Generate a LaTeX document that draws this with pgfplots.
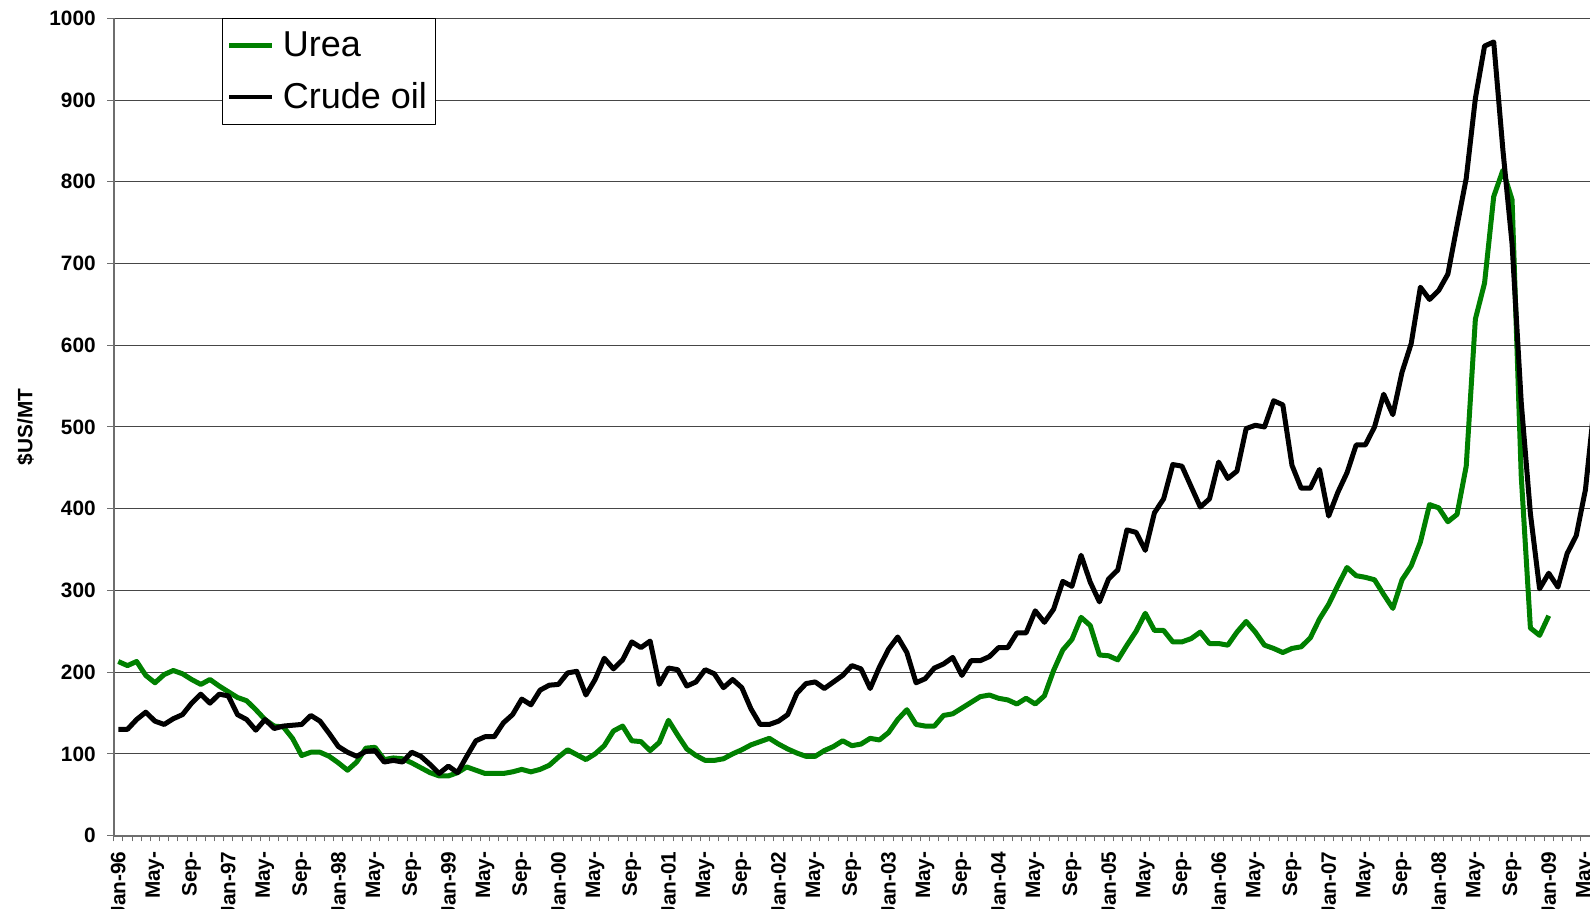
\documentclass[border=0pt]{standalone}
\usepackage{fontspec}
\setmainfont{Liberation Sans}
\usepackage{pgfplots}
\pgfplotsset{compat=1.18}
\usepackage{pgfplotstable}
\definecolor{ureagreen}{RGB}{0,128,0}
\definecolor{gridc}{RGB}{70,70,70}
\definecolor{axc}{RGB}{110,110,110}

\pgfplotstableread{
i v
0 213
1 208
2 213
3 196
4 187
5 197
6 202
7 198
8 191
9 185
10 191
11 183
12 176
13 169
14 165
15 154
16 142
17 134
18 133
19 119
20 98
21 102
22 102
23 97
24 89
25 80
26 90
27 107
28 108
29 93
30 95
31 94
32 89
33 83
34 77
35 73
36 73
37 77
38 84
39 80
40 76
41 76
42 76
43 78
44 81
45 78
46 81
47 86
48 96
49 105
50 99
51 93
52 100
53 110
54 128
55 134
56 116
57 115
58 104
59 114
60 141
61 123
62 106
63 98
64 92
65 92
66 94
67 100
68 105
69 111
70 115
71 119
72 112
73 106
74 101
75 97
76 97
77 104
78 109
79 116
80 110
81 112
82 119
83 117
84 126
85 142
86 154
87 136
88 134
89 134
90 147
91 149
92 156
93 163
94 170
95 172
96 168
97 166
98 161
99 168
100 161
101 171
102 202
103 227
104 240
105 267
106 257
107 221
108 220
109 215
110 233
111 250
112 272
113 251
114 251
115 237
116 237
117 241
118 249
119 235
120 235
121 233
122 249
123 262
124 249
125 233
126 229
127 224
128 229
129 231
130 242
131 265
132 283
133 306
134 328
135 318
136 316
137 313
138 295
139 278
140 313
141 330
142 359
143 405
144 401
145 384
146 393
147 452
148 632
149 676
150 782
151 814
152 778
153 440
154 254
155 245
156 269
}\urea

\pgfplotstableread{
i v
0 130
1 130
2 142
3 151
4 140
5 136
6 143
7 148
8 162
9 173
10 162
11 173
12 171
13 148
14 142
15 129
16 142
17 131
18 134
19 135
20 136
21 147
22 140
23 125
24 109
25 102
26 97
27 103
28 104
29 90
30 92
31 90
32 102
33 97
34 87
35 76
36 85
37 77
38 97
39 116
40 121
41 121
42 138
43 148
44 167
45 160
46 178
47 184
48 185
49 199
50 201
51 172
52 191
53 217
54 204
55 215
56 237
57 230
58 238
59 185
60 205
61 203
62 183
63 188
64 203
65 198
66 181
67 191
68 181
69 155
70 136
71 136
72 140
73 148
74 174
75 186
76 188
77 180
78 188
79 196
80 208
81 204
82 180
83 206
84 228
85 243
86 224
87 187
88 192
89 205
90 210
91 218
92 196
93 214
94 214
95 219
96 230
97 230
98 248
99 248
100 275
101 261
102 277
103 311
104 305
105 343
106 310
107 286
108 314
109 325
110 374
111 371
112 349
113 395
114 412
115 454
116 452
117 427
118 402
119 412
120 457
121 437
122 446
123 498
124 502
125 500
126 532
127 527
128 453
129 425
130 425
131 448
132 391
133 420
134 444
135 478
136 478
137 500
138 540
139 515
140 567
141 602
142 671
143 656
144 667
145 687
146 746
147 804
148 902
149 966
150 971
151 839
152 724
153 530
154 394
155 302
156 321
157 304
158 345
159 367
160 423
161 530
}\crude

\begin{document}
\begin{tikzpicture}
\begin{axis}[
  name=ax,
  scale only axis,
  width=738.15pt, height=408.65pt,
  xmin=-0.5, xmax=160.5,
  ymin=0, ymax=1000,
  axis x line*=bottom, axis y line*=left,
  axis line style={axc, line width=1pt},
  ytick={0,100,...,1000},
  ymajorgrids,
  major grid style={gridc, line width=0.5pt},
  tick align=outside,
  major tick length=3.3pt,
  minor tick length=2.9pt,
  xtick={0,4,...,160},
  minor xtick={-0.5,0.5,...,160.5},
  major x tick style={draw=none},
  minor x tick style={axc, line width=0.5pt},
  major y tick style={axc, line width=0.5pt},
  xticklabels={Jan-96,May-,Sep-,Jan-97,May-,Sep-,Jan-98,May-,Sep-,Jan-99,May-,Sep-,Jan-00,May-,Sep-,Jan-01,May-,Sep-,Jan-02,May-,Sep-,Jan-03,May-,Sep-,Jan-04,May-,Sep-,Jan-05,May-,Sep-,Jan-06,May-,Sep-,Jan-07,May-,Sep-,Jan-08,May-,Sep-,Jan-09,May-},
  xticklabel style={rotate=90, anchor=east, font=\fontsize{10.4}{12}\selectfont\bfseries, inner sep=0pt, xshift=-4.5pt},
  yticklabel style={font=\fontsize{10.4}{12}\selectfont\bfseries, /pgf/number format/1000 sep={}, /pgf/number format/assume math mode=true, inner sep=0pt, xshift=-5.5pt},
  ylabel={\$US/MT},
  ylabel style={font=\fontsize{10.4}{12}\selectfont\bfseries, at={(axis description cs:-0.0598,0.5)}, anchor=center, rotate=0},
  legend style={at={(0.0736,1)}, anchor=north west, draw=black, line width=0.5pt,
    font=\fontsize{18}{20}\selectfont, inner xsep=2pt, inner ysep=4.5pt, row sep=7.5pt},
  legend cell align=left,
  legend image code/.code={\draw[#1, line width=2.2pt] (0pt,0pt) -- (21.7pt,0pt); \path (23.7pt,0pt);},
  line join=round,
]
\addplot[ureagreen, line width=2.5pt, no markers] table[x=i, y=v] {\urea};
\addlegendentry{Urea}
\addplot[black, line width=2.5pt, no markers] table[x=i, y=v] {\crude};
\addlegendentry{Crude oil}
\end{axis}
\pgfresetboundingbox
\path[use as bounding box] (ax.north west) ++(-56.85pt,9.15pt) rectangle ++(795pt,-454.5pt);
\end{tikzpicture}
\end{document}
